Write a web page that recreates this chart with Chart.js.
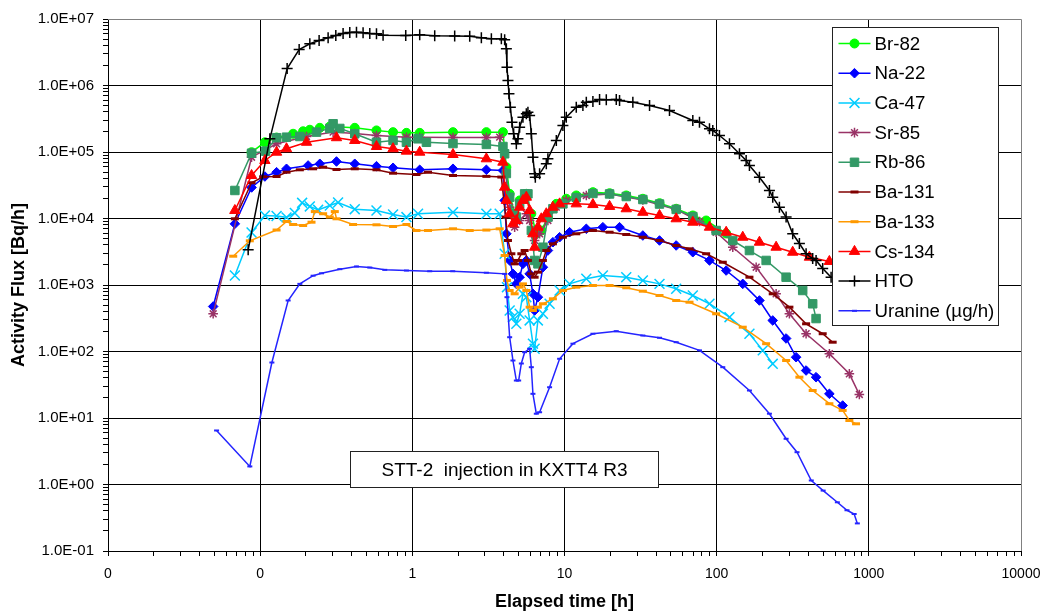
<!DOCTYPE html>
<html>
<head>
<meta charset="utf-8">
<script src="https://cdn.jsdelivr.net/npm/chart.js@4.4.1/dist/chart.umd.min.js"></script>
<style>html,body{margin:0;padding:0;background:#fff}canvas{display:block}</style>
</head>
<body>
<canvas id="c" width="1043" height="613"></canvas>
<script>
// ---------- axis ticks ----------
const xMajor = [0.01, 0.1, 1, 10, 100, 1000, 10000];
const xTickLabels = ['0', '0', '1', '10', '100', '1000', '10000'];
const yMajor = [0.1, 1, 10, 100, 1000, 1e4, 1e5, 1e6, 1e7];
const yTickLabels = ['1.0E-01','1.0E+00','1.0E+01','1.0E+02','1.0E+03','1.0E+04','1.0E+05','1.0E+06','1.0E+07'];
const seriesNames = ['Br-82','Na-22','Ca-47','Sr-85','Rb-86','Ba-131','Ba-133','Cs-134','HTO','Uranine (µg/h)'];
const noteText = 'STT-2  injection in KXTT4 R3';

// ---------- series (time [h], flux) ----------
const brT = [0.0878,0.1074,0.1282,0.1647,0.1916,0.212,0.2466,0.2869,0.4185,0.5813,0.7469,0.9147,1.118,1.85,3.066,3.94,4.149,4.361,4.703,5.072,5.613,6.053,6.528,7.04,7.779,8.836,10.27,11.95,15.37,19.78,25.46,32.72,42.11,54.2,69.7,85.3,115.5];
const brV = [9.93e4,1.40e5,1.65e5,1.88e5,2.05e5,2.16e5,2.31e5,2.42e5,2.31e5,2.11e5,1.99e5,1.94e5,1.94e5,1.99e5,1.99e5,1.99e5,5.91e4,2.35e4,1.18e4,1.87e4,2.35e4,1.18e4,5.89e3,6.6e3,1.05e4,1.66e4,1.98e4,2.22e4,2.49e4,2.40e4,2.22e4,1.98e4,1.70e4,1.40e4,1.11e4,9.33e3,5.95e3];

const naT = [0.0491,0.0682,0.0878,0.1074,0.1282,0.149,0.2066,0.2466,0.3174,0.4185,0.5813,0.7469,1.118,1.85,3.066,3.94,4.043,4.149,4.361,4.584,4.825,5.072,5.332,5.613,5.899,6.202,6.363,6.688,7.213,7.779,8.39,9.286,10.8,13.91,17.87,23.0,32.72,42.11,54.2,69.7,89.7,115.5,148.4,191,233.6,286,332.7,387,450.1,550.4,673];
const naV = [475,8.32e3,2.93e4,4.28e4,4.97e4,5.59e4,6.27e4,6.65e4,7.2e4,6.65e4,6.12e4,5.79e4,5.40e4,5.6e4,5.4e4,5.27e4,1.87e4,5.89e3,2.34e3,1.47e3,1.04e3,1.31e3,2.08e3,2.34e3,1.47e3,737,414,656,1.85e3,3.3e3,4.4e3,5.23e3,6.22e3,7.0e3,7.4e3,7.4e3,5.55e3,4.67e3,3.93e3,3.11e3,2.34e3,1.65e3,1.04e3,585,293,157,82.1,51.8,41.1,23.1,15.4];

const caT = [0.0682,0.0878,0.1074,0.1282,0.149,0.169,0.1887,0.212,0.2404,0.2869,0.3251,0.4185,0.5813,0.7469,0.9147,1.09,1.85,3.066,3.749,4.043,4.187,4.361,4.584,4.825,5.072,5.332,5.613,5.899,6.202,6.363,6.688,7.213,7.98,9.286,10.8,13.91,17.87,25.46,32.72,42.11,54.2,69.7,89.7,121.4,164.2,200.8,233.6];
const caV = [1.39e3,6.16e3,1.11e4,1.09e4,1.04e4,1.21e4,1.72e4,1.52e4,1.35e4,1.57e4,1.74e4,1.38e4,1.32e4,1.15e4,1.05e4,1.18e4,1.24e4,1.18e4,1.18e4,2.95e3,927,414,328,261,369,737,656,293,131,110,293,369,522,827,1.04e3,1.24e3,1.39e3,1.31e3,1.17e3,1.04e3,877,695,522,328,185,104,65.3];

const srT = [0.0491,0.0878,0.1282,0.2017,0.3015,0.4185,0.5813,0.9147,1.118,1.85,3.066,3.749,4.105,4.361,4.703,5.072,5.613,5.899,6.363,6.862,7.779,8.836,10.27,13.91,19.78,32.72,54.2,77.1,99.2,127.6,181.8,245.9,300.6,387,550.4,744.7,866.3];
const srV = [369,8.35e4,1.33e5,1.71e5,1.99e5,1.90e5,1.77e5,1.67e5,1.67e5,1.65e5,1.65e5,1.67e5,4.75e4,1.48e4,7.4e3,9.33e3,1.18e4,9.33e3,4.67e3,5.89e3,9.33e3,1.48e4,1.87e4,2.22e4,2.34e4,1.90e4,1.37e4,9.01e3,6.22e3,3.7e3,1.85e3,737,369,185,92.4,46.2,22.6];

const rbT = [0.0682,0.0878,0.1085,0.1282,0.149,0.1823,0.2346,0.2869,0.3015,0.3337,0.4185,0.5813,0.7469,0.9147,1.09,1.238,1.85,3.066,3.94,4.043,4.149,4.361,4.584,4.825,5.072,5.47,5.75,6.053,6.363,6.688,7.213,7.779,8.39,9.761,11.95,15.37,19.78,25.46,32.72,42.11,54.2,69.7,99.2,127.6,164.2,211.4,286,367.6,427.6,450.1];
const rbV = [2.64e4,9.59e4,1.03e5,1.64e5,1.67e5,1.71e5,1.99e5,2.26e5,2.66e5,2.26e5,1.88e5,1.40e5,1.49e5,1.40e5,1.58e5,1.40e5,1.34e5,1.30e5,1.21e5,9.4e4,4.75e4,2.09e4,1.19e4,1.05e4,1.66e4,2.35e4,2.35e4,6.6e3,2.34e3,2.08e3,3.7e3,1.05e4,1.40e4,1.66e4,2.07e4,2.38e4,2.34e4,2.14e4,1.93e4,1.65e4,1.37e4,1.07e4,6.6e3,4.67e3,3.3e3,2.34e3,1.31e3,827,522,313];

const ba131T = [0.0682,0.0878,0.1046,0.1282,0.149,0.1823,0.2228,0.2593,0.3174,0.4185,0.5813,0.7469,1.064,1.268,1.85,3.066,3.846,4.105,4.251,4.475,4.703,4.944,5.204,5.47,5.75,6.053,6.363,6.688,7.213,7.593,8.39,9.761,11.95,15.37,19.78,25.46,32.72,42.11,54.2,66.3,85.3,109.7,164.2,233.6,300.6,387,497.5,578.5];
const ba131V = [9.9e3,3.45e4,4.24e4,4.28e4,4.97e4,5.40e4,5.59e4,5.91e4,5.46e4,5.59e4,5.40e4,4.8e4,4.59e4,4.97e4,4.43e4,4.3e4,4.2e4,1.05e4,4.67e3,2.95e3,2.08e3,2.34e3,2.95e3,3.3e3,2.34e3,1.47e3,1.31e3,1.56e3,2.34e3,3.3e3,4.16e3,5.23e3,5.89e3,6.6e3,6.22e3,5.75e3,5.23e3,4.67e3,3.93e3,3.5e3,2.95e3,2.2e3,1.31e3,737,464,261,185,138];

const ba133T = [0.0665,0.0855,0.1282,0.149,0.1647,0.1916,0.2175,0.2287,0.2593,0.2869,0.3094,0.3174,0.4078,0.5813,0.7469,0.9147,1.064,1.268,1.85,2.383,3.066,3.749,4.043,4.187,4.361,4.703,5.072,5.332,5.613,5.899,6.202,6.688,7.213,8.39,9.761,11.95,15.37,19.78,25.46,32.72,42.11,54.2,66.3,99.2,148.4,211.4,286,349.7,427.6,550.4,673,744.7,824];
const ba133V = [2.71e3,4.62e3,6.71e3,9.01e3,8.12e3,7.85e3,8.8e3,1.27e4,1.18e4,1.05e4,1.27e4,9.9e3,8.12e3,8.04e3,7.58e3,8.12e3,6.6e3,6.6e3,7.0e3,6.6e3,6.7e3,7.0e3,2.78e3,1.17e3,827,737,927,1.04e3,827,464,414,464,522,620,827,927,983,983,908,807,695,585,551,369,232,131,73.2,41.1,25.9,16.4,13.0,9.17,8.18];

const csT = [0.0682,0.0878,0.1074,0.1282,0.149,0.2017,0.3174,0.4185,0.5813,0.7469,0.9147,1.118,1.85,3.066,3.94,4.043,4.149,4.361,4.584,4.825,5.072,5.332,5.613,5.899,6.202,6.363,6.688,7.04,7.593,8.39,9.286,11.95,15.37,19.78,25.46,32.72,42.11,54.2,69.7,89.7,115.5,148.4,191,245.9,316,406.7,550.4];
const csV = [1.32e4,4.43e4,7.45e4,9.93e4,1.12e5,1.40e5,1.64e5,1.49e5,1.21e5,1.12e5,1.03e5,9.93e4,9.17e4,7.9e4,7.03e4,2.96e4,1.87e4,1.18e4,8.32e3,9.33e3,1.48e4,1.87e4,2.09e4,1.32e4,5.89e3,3.7e3,7.4e3,9.9e3,1.18e4,1.48e4,1.66e4,1.66e4,1.62e4,1.52e4,1.40e4,1.24e4,1.11e4,9.9e3,8.8e3,7.4e3,6.22e3,5.23e3,4.4e3,3.7e3,3.11e3,2.62e3,2.26e3];

const htoT = [0.0834,0.1158,0.1504,0.1804,0.212,0.244,0.2796,0.3141,0.3507,0.3881,0.4295,0.4746,0.5253,0.5813,0.6423,0.905,1.118,1.403,1.898,2.383,2.842,3.307,3.846,4.043,4.149,4.187,4.251,4.315,4.407,4.515,4.633,4.825,4.944,5.072,5.332,5.613,5.75,5.899,6.053,6.202,6.363,6.431,6.862,7.593,7.779,8.836,9.761,10.27,11.95,13.21,13.91,15.37,17.0,18.82,21.89,23.0,28.13,36.22,48.98,69.7,77.1,89.7,94.3,104.3,121.4,141.2,156.2,164.2,191,222.2,233.6,258.4,286,316,349.7,387,427.6,450.1,497.5,564.9];
const htoV = [3.38e3,1.58e5,1.80e6,3.48e6,4.24e6,4.75e6,5.22e6,5.65e6,6.05e6,6.27e6,6.33e6,6.2e6,6.05e6,5.99e6,5.71e6,5.65e6,5.79e6,5.6e6,5.55e6,5.5e6,5.22e6,5.04e6,5.04e6,4.87e6,3.56e6,1.88e6,1.19e6,7.5e5,4.72e5,2.81e5,1.88e5,1.33e5,1.58e5,2.36e5,3.34e5,3.75e5,3.97e5,3.54e5,1.88e5,8.35e4,4.7e4,4.18e4,4.7e4,6.65e4,7.9e4,1.49e5,2.5e5,3.34e5,4.72e5,5.0e5,5.61e5,5.75e5,6.16e5,6.1e5,6.16e5,5.95e5,5.61e5,5.0e5,4.21e5,2.98e5,2.81e5,2.23e5,2.11e5,1.77e5,1.33e5,9.4e4,7.45e4,6.27e4,4.18e4,2.64e4,2.09e4,1.48e4,1.05e4,5.89e3,4.21e3,2.95e3,2.5e3,2.34e3,1.77e3,1.31e3];

const uraT = [0.0517,0.0855,0.1194,0.1527,0.1823,0.2228,0.2531,0.3337,0.4295,0.5253,0.6591,0.9147,1.301,1.842,3.066,4.043,4.187,4.361,4.584,4.825,4.997,5.204,5.47,5.899,6.053,6.202,6.528,6.862,7.98,9.286,11.36,15.37,21.89,32.72,42.11,54.2,77.1,109.7,164.2,222.2,286,337.3,418.6,501,621,718.4,801,840.5];
const uraV = [6.49,1.87,68.3,585,1.04e3,1.38e3,1.5e3,1.73e3,1.9e3,1.83e3,1.69e3,1.65e3,1.61e3,1.61e3,1.53e3,1.47e3,656,164,73.2,36.6,36.6,66,97.6,110,58.1,23.1,11.6,12.2,29.0,77.7,131,185,202,174,161,138,104,58.1,25.9,11.6,4.87,3.06,1.15,0.81,0.54,0.41,0.36,0.26];

// ---------- styles ----------
const FONT = "'Liberation Sans', Arial, Helvetica, sans-serif";
const seriesStyle = [
  {c:'#00ff00', ps:'circle',   r:4.5, pbw:1,   lw:1.5},
  {c:'#0000ff', ps:'rectRot',  r:4.8, pbw:1,   lw:1.5},
  {c:'#00ccff', ps:'crossRot', r:7,   pbw:1.5, lw:1.5},
  {c:'#993366', ps:'star',     r:4.8, pbw:1.5, lw:1.5},
  {c:'#339966', ps:'rect',     r:6,   pbw:1,   lw:1.5},
  {c:'#800000', ps:'line',     r:4,   pbw:3,   lw:1.5},
  {c:'#ff9900', ps:'line',     r:4,   pbw:3,   lw:1.5},
  {c:'#ff0000', ps:'triangle', r:6,   pbw:1,   lw:1.5},
  {c:'#000000', ps:'cross',    r:5.5, pbw:1.5, lw:1.5},
  {c:'#2424ff', ps:'line',     r:2.5, pbw:2,   lw:1.5}
];

function pts(t, v) {
  const n = Math.min(t.length, v.length), out = [];
  for (let i = 0; i < n; i++) out.push({x: t[i], y: v[i]});
  return out;
}
const seriesData = [pts(brT,brV), pts(naT,naV), pts(caT,caV), pts(srT,srV), pts(rbT,rbV),
                    pts(ba131T,ba131V), pts(ba133T,ba133V), pts(csT,csV), pts(htoT,htoV), pts(uraT,uraV)];

const datasets = seriesData.map((d, i) => {
  const s = seriesStyle[i];
  return {
    label: seriesNames[i], data: d,
    borderColor: s.c, backgroundColor: s.c, borderWidth: s.lw,
    pointStyle: s.ps, pointRadius: s.r, pointBorderWidth: s.pbw,
    pointBackgroundColor: s.c, pointBorderColor: s.c,
    pointHoverRadius: s.r, fill: false, tension: 0,
    order: seriesNames.length - 1 - i
  };
});

function makeTicks(majors) {
  const t = [];
  for (let i = 0; i < majors.length; i++) {
    t.push({value: majors[i], major: true});
    if (i < majors.length - 1) for (let k = 2; k <= 9; k++) t.push({value: k * majors[i], major: false});
  }
  return t;
}
function labelFor(majors, labels, v) {
  const i = majors.indexOf(v);
  return i >= 0 ? labels[i] : '';
}

function drawMarker(ctx, st, x, y) {
  const r = st.r;
  ctx.save();
  ctx.fillStyle = st.c; ctx.strokeStyle = st.c; ctx.lineWidth = st.pbw;
  if (Chart.helpers && Chart.helpers.drawPoint) {
    Chart.helpers.drawPoint(ctx, {pointStyle: st.ps, rotation: 0, radius: r, borderWidth: st.pbw}, x, y);
  } else {
    ctx.beginPath();
    const d = r * Math.SQRT1_2;
    switch (st.ps) {
      case 'circle': ctx.arc(x, y, r, 0, Math.PI * 2); ctx.fill(); break;
      case 'rectRot': ctx.moveTo(x - r, y); ctx.lineTo(x, y - r); ctx.lineTo(x + r, y); ctx.lineTo(x, y + r); ctx.closePath(); ctx.fill(); break;
      case 'rect': ctx.rect(x - d, y - d, 2 * d, 2 * d); ctx.fill(); break;
      case 'triangle': ctx.moveTo(x, y - r); ctx.lineTo(x + r * 0.866, y + r / 2); ctx.lineTo(x - r * 0.866, y + r / 2); ctx.closePath(); ctx.fill(); break;
      case 'crossRot': ctx.moveTo(x - d, y - d); ctx.lineTo(x + d, y + d); ctx.moveTo(x + d, y - d); ctx.lineTo(x - d, y + d); break;
      case 'cross': ctx.moveTo(x - r, y); ctx.lineTo(x + r, y); ctx.moveTo(x, y - r); ctx.lineTo(x, y + r); break;
      case 'star': ctx.moveTo(x - r, y); ctx.lineTo(x + r, y); ctx.moveTo(x, y - r); ctx.lineTo(x, y + r);
                   ctx.moveTo(x - d, y - d); ctx.lineTo(x + d, y + d); ctx.moveTo(x + d, y - d); ctx.lineTo(x - d, y + d); break;
      case 'line': ctx.moveTo(x - r, y); ctx.lineTo(x + r, y); break;
    }
    ctx.stroke();
  }
  ctx.restore();
}

const decorations = {
  id: 'decorations',
  beforeDraw(chart) {
    const ctx = chart.ctx;
    ctx.save(); ctx.fillStyle = '#fff'; ctx.fillRect(0, 0, chart.width, chart.height); ctx.restore();
  },
  beforeDatasetsDraw(chart) {
    const {ctx, chartArea: a} = chart;
    const top = Math.round(a.top - 0.5) + 0.5, right = Math.round(a.right - 0.5) + 0.5;
    ctx.save();
    ctx.strokeStyle = '#808080'; ctx.lineWidth = 1;
    ctx.beginPath();
    ctx.moveTo(a.left, top); ctx.lineTo(right, top); ctx.lineTo(right, a.bottom);
    ctx.stroke();
    ctx.restore();
  },
  afterDatasetsDraw(chart) {
    const {ctx, chartArea: a} = chart;
    ctx.save();
    // note box
    const nx = Math.round(a.left + 242) + 0.5, ny = Math.round(a.top + 432) + 0.5, nw = 308, nh = 36;
    ctx.fillStyle = '#fff'; ctx.fillRect(nx, ny, nw, nh);
    ctx.strokeStyle = '#222'; ctx.lineWidth = 1; ctx.strokeRect(nx, ny, nw, nh);
    ctx.fillStyle = '#000'; ctx.font = '19px ' + FONT; ctx.textAlign = 'center'; ctx.textBaseline = 'middle';
    ctx.fillText(noteText, nx + nw / 2, ny + nh / 2 + 1);
    // legend box
    const lx = Math.round(a.right - 189) + 0.5, ly = Math.round(a.top + 8) + 0.5, lw = 166, lh = 298;
    ctx.fillStyle = '#fff'; ctx.fillRect(lx, ly, lw, lh);
    ctx.strokeStyle = '#222'; ctx.strokeRect(lx, ly, lw, lh);
    ctx.font = '18.7px ' + FONT; ctx.textAlign = 'left'; ctx.textBaseline = 'middle';
    seriesNames.forEach((name, i) => {
      const st = seriesStyle[i];
      const yy = ly + 16 + i * 29.7;
      ctx.strokeStyle = st.c; ctx.lineWidth = st.lw;
      ctx.beginPath(); ctx.moveTo(lx + 6, yy); ctx.lineTo(lx + 38, yy); ctx.stroke();
      drawMarker(ctx, st, lx + 22, yy);
      ctx.fillStyle = '#000';
      ctx.fillText(name, lx + 42, yy + 1);
    });
    ctx.restore();
  }
};

new Chart(document.getElementById('c'), {
  type: 'line',
  data: {datasets},
  plugins: [decorations],
  options: {
    responsive: false, animation: false, devicePixelRatio: 1,
    layout: {padding: {left: 0, right: 22, top: 19, bottom: 0}},
    plugins: {legend: {display: false}, tooltip: {enabled: false}},
    elements: {line: {tension: 0}},
    scales: {
      x: {
        type: 'logarithmic', position: 'bottom', min: 0.01, max: 10000,
        afterBuildTicks: s => { s.ticks = makeTicks(xMajor); },
        afterFit: s => { s.height = 62; s.paddingLeft = 0; s.paddingRight = 0; },
        ticks: {autoSkip: false, maxRotation: 0, minRotation: 0, padding: 10, color: '#000',
                font: {family: FONT, size: 14},
                callback: v => labelFor(xMajor, xTickLabels, v)},
        grid: {color: c => (c.tick && c.tick.major && c.tick.value !== 10000) ? '#000' : 'rgba(0,0,0,0)',
               lineWidth: 1, tickLength: 5, tickColor: '#000', drawTicks: true},
        border: {display: true, color: '#000', width: 1},
        title: {display: true, text: 'Elapsed time [h]', color: '#000',
                font: {family: FONT, size: 18, weight: 'bold'}, padding: {top: 0, bottom: 0}}
      },
      y: {
        type: 'logarithmic', position: 'left', min: 0.1, max: 1e7,
        afterBuildTicks: s => { s.ticks = makeTicks(yMajor); },
        afterFit: s => { s.width = 108; s.paddingTop = 0; s.paddingBottom = 0; },
        ticks: {autoSkip: false, padding: 9, color: '#000',
                font: {family: FONT, size: 15},
                callback: v => labelFor(yMajor, yTickLabels, v)},
        grid: {color: c => (c.tick && c.tick.major && c.tick.value !== 1e7) ? '#000' : 'rgba(0,0,0,0)',
               lineWidth: 1, tickLength: 5, tickColor: '#000', drawTicks: true},
        border: {display: true, color: '#000', width: 1},
        title: {display: true, text: 'Activity Flux [Bq/h]', color: '#000',
                font: {family: FONT, size: 18, weight: 'bold'}, padding: {top: 8, bottom: 0}}
      }
    }
  }
});
</script>
</body>
</html>
